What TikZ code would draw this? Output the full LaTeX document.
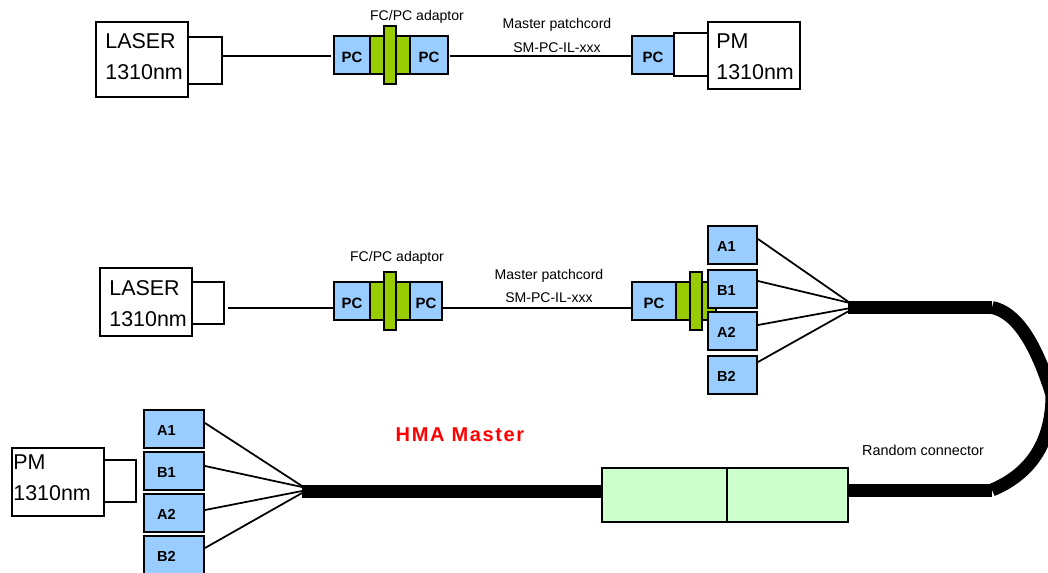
\documentclass[tikz,border=0pt]{standalone}
\usepackage{fontspec}
\setmainfont{Liberation Sans}
\definecolor{pcblue}{HTML}{99CCFF}
\definecolor{adaptgreen}{HTML}{99CC00}
\definecolor{connmint}{HTML}{CCFFCC}
\tikzset{
  sized/.style 2 args = {minimum width = #1*0.02cm, minimum height = #2*0.02cm, inner sep = 0pt, outer sep = 0pt},
  devbox/.style 2 args = {draw, fill = white, line width = 1pt, sized = {#1}{#2}},
  devtext/.style = {anchor = west, inner sep = 0pt, align = left, font = \fontsize{12.2}{17.6}\selectfont},
  stub/.style 2 args = {draw, fill = white, line width = 1pt, sized = {#1}{#2}},
  pcbox/.style 2 args = {draw, fill = pcblue, line width = 1pt, sized = {#1}{#2}, text height = 8.3pt, text depth = 0pt,
    font = \fontsize{8.5}{10}\selectfont\bfseries},
  portbox/.style 2 args = {draw, fill = pcblue, line width = 1pt, outer sep = 0pt, inner ysep = 0pt,
    minimum height = 38*0.02cm, inner xsep = #2*0.02cm, text width = (#1-2*#2)*0.02cm, align = left,
    text height = 7pt, text depth = 0pt, font = \fontsize{8.3}{10}\selectfont\bfseries},
  adaptbody/.style = {draw, fill = adaptgreen, line width = 1pt, sized = {40}{38}},
  adaptflange/.style = {draw, fill = adaptgreen, line width = 1pt, sized = {12}{58}},
  connbox/.style = {draw, fill = connmint, line width = 1.2pt, sized = {#1}{54}},
  caption/.style = {inner sep = 0pt, font = \fontsize{8}{10}\selectfont},
  wire/.style = {line width = 1pt},
  fiber/.style = {line width = 7.4pt}
}
\begin{document}
\begin{tikzpicture}[x = 0.02cm, y = -0.02cm]
\useasboundingbox (0, 0) rectangle (1048, 572);
\clip (0, 0) rectangle (1048, 572);

\node[stub = {34}{47}] (stubA) at (205, 60.5) {};
\node[devbox = {92}{75}] (laserA) at (142, 59.5) {};
\node[devtext] (laserTextA) at (105, 56.5) {LASER\\1310nm};
\node[adaptbody] (bodyA) at (390, 55) {};
\node[adaptflange] (flangeA) at (390, 55) {};
\node[pcbox = {36}{38}] (pcA) at (352, 55) {PC};
\node[pcbox = {38}{38}] (pcB) at (429, 55) {PC};
\node[pcbox = {42}{38}] (pcC) at (653, 55) {PC\hspace{2.3pt}};
\node[stub = {34}{43}] (stubB) at (691, 54.5) {};
\node[devbox = {92}{67}] (pmA) at (754, 55.5) {};
\node[devtext] (pmTextA) at (716, 57) {PM\\1310nm};
\draw[wire] ([yshift = -1*0.02cm]stubA.east |- pcA.west) -- ([xshift = -3*0.02cm, yshift = -1*0.02cm]pcA.west);
\draw[wire] ([xshift = 2*0.02cm, yshift = -1*0.02cm]pcB.east) -- ([yshift = -1*0.02cm]pcC.west);
\node[caption] (adaptA) at (417, 17) {FC/PC adaptor};
\node[caption] (cordA) at (557, 25) {Master patchcord};
\node[caption] (skuA) at (557, 48) {SM-PC-IL-xxx};

\node[stub = {32}{42}] (stubC) at (208, 303) {};
\node[devbox = {92}{68}] (laserB) at (146, 302) {};
\node[devtext] (laserTextB) at (109, 303.5) {LASER\\1310nm};
\node[adaptbody] (bodyB) at (390, 301) {};
\node[adaptflange] (flangeB) at (390, 301) {};
\node[pcbox = {36}{38}] (pcD) at (352, 301) {PC\hspace{3.4pt}};
\node[pcbox = {32}{38}] (pcE) at (426, 301) {PC};
\node[pcbox = {44}{38}] (pcF) at (654, 301) {PC\hspace{3.4pt}};
\node[adaptbody] (bodyC) at (696, 301) {};
\node[adaptflange] (flangeC) at (696, 301) {};
\draw[wire] ([xshift = 4*0.02cm, yshift = -5*0.02cm]stubC.east) -- ([yshift = -7*0.02cm]pcD.west);
\draw[wire] ([yshift = -7*0.02cm]pcE.east) -- ([yshift = -7*0.02cm]pcF.west);
\node[caption] (adaptB) at (397, 258) {FC/PC adaptor};
\node[caption] (cordB) at (549, 276) {Master patchcord};
\node[caption] (skuB) at (549, 298) {SM-PC-IL-xxx};

\node[portbox = {49}{9}] (aOne) at (732.5, 245) {A1};
\node[portbox = {49}{9}] (bOne) at (732.5, 289) {B1};
\node[portbox = {49}{9}] (aTwo) at (732.5, 331) {A2};
\node[portbox = {49}{9}] (bTwo) at (732.5, 375) {B2};

\coordinate (tailA) at (848, 307.5);
\coordinate (tailB) at (992, 307.5);
\coordinate (tailC) at (992, 490);
\coordinate (tailD) at (849, 490);
\coordinate (tailE) at (602, 491);
\coordinate (tailF) at (302, 491);
\draw[fiber] (tailA) -- (tailB);
\draw[fiber] (tailB) .. controls (1015, 312) and (1035, 340) .. (1052, 395)
  .. controls (1052, 430) and (1040, 470) .. (tailC);
\draw[fiber] (tailC) -- (tailD);
\draw[fiber] (tailE) -- (tailF);
\draw[wire] ([xshift = 1*0.02cm, yshift = 6*0.02cm]aOne.east) -- ([yshift = 6*0.02cm]tailA);
\draw[wire] ([xshift = 1*0.02cm, yshift = 8*0.02cm]bOne.east) -- ([yshift = 5*0.02cm]tailA);
\draw[wire] ([xshift = 1*0.02cm, yshift = 6*0.02cm]aTwo.east) -- ([yshift = -1*0.02cm]tailA);
\draw[wire] ([xshift = 1*0.02cm, yshift = 13*0.02cm]bTwo.east) -- ([yshift = -4*0.02cm]tailA);

\node[connbox = 125] (connA) at (664.5, 495) {};
\node[connbox = 121] (connB) at (787.5, 495) {};
\node[caption, font = \fontsize{8.2}{10}\selectfont] (randomA) at (923, 450) {Random connector};
\node[inner sep = 0pt, text = red, font = \fontsize{11.4}{14}\selectfont\bfseries\addfontfeature{LetterSpace=8}] (hma) at (460, 435) {HMA Master};

\node[stub = {32}{42}] (stubD) at (120, 481) {};
\node[devbox = {92}{68}] (pmB) at (58, 482) {};
\node[devtext] (pmTextB) at (13, 477.5) {PM\\1310nm};
\node[portbox = {60}{13}] (aThree) at (174, 429) {A1};
\node[portbox = {60}{13}] (bThree) at (174, 471) {B1};
\node[portbox = {60}{13}] (aFour) at (174, 513) {A2};
\node[portbox = {60}{13}] (bFour) at (174, 555) {B2};
\draw[wire] ([xshift = 1*0.02cm, yshift = 6*0.02cm]aThree.east) -- ([yshift = 5*0.02cm]tailF);
\draw[wire] ([xshift = 1*0.02cm, yshift = 5*0.02cm]bThree.east) -- ([yshift = 4*0.02cm]tailF);
\draw[wire] ([xshift = 1*0.02cm, yshift = 3*0.02cm]aFour.east) -- ([yshift = 0*0.02cm]tailF);
\draw[wire] ([xshift = 1*0.02cm, yshift = 7*0.02cm]bFour.east) -- ([yshift = -2*0.02cm]tailF);
\end{tikzpicture}
\end{document}
